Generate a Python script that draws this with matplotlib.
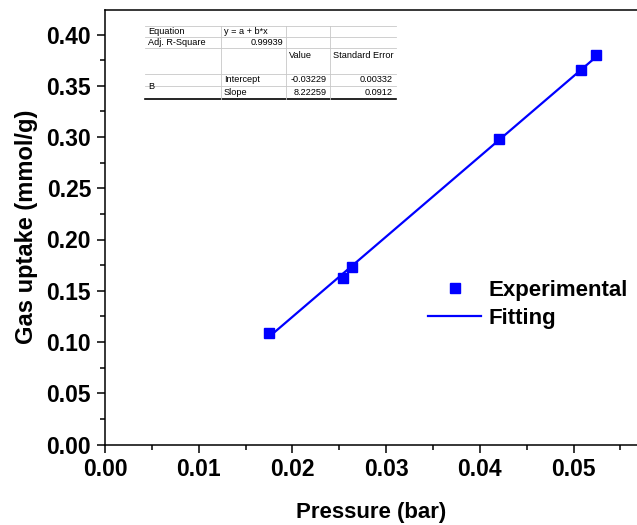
import numpy as np
import matplotlib
matplotlib.use("Agg")
import matplotlib.pyplot as plt
from matplotlib.lines import Line2D

plt.rcParams['font.family'] = ['Liberation Sans', 'DejaVu Sans']

# datos experimentales
pressure = [0.01750, 0.02537, 0.02639, 0.04208, 0.05080, 0.05243]
uptake = [0.1087, 0.1625, 0.1735, 0.2978, 0.3650, 0.3796]

x_ticks = [0.00, 0.01, 0.02, 0.03, 0.04, 0.05]
y_ticks = [0.00, 0.05, 0.10, 0.15, 0.20, 0.25, 0.30, 0.35, 0.40]

# tabla del ajuste (texto)
table_rows = [
    ["Equation", "y = a + b*x", "", ""],
    ["Adj. R-Square", "0.99939", "", ""],
    ["", "", "Value", "Standard Error"],
    ["B", "Intercept", "-0.03229", "0.00332"],
    ["", "Slope", "8.22259", "0.0912"],
]

W, H = 637, 525
fig = plt.figure(figsize=(W/100, H/100), dpi=100)
ax = fig.add_axes([105/W, 80.5/H, 532/W, 434.5/H])

blue = '#0000ff'
# ajuste lineal
b, a = np.polyfit(pressure, uptake, 1)
xf = np.array([pressure[0], pressure[-1]])
ax.plot(xf, a + b*xf, color=blue, lw=1.6, zorder=2)
ax.plot(pressure, uptake, 's', color=blue, ms=7.5, zorder=3)

ax.set_xlim(0, 532/9370)
ax.set_ylim(0, 434.5/1025)
ax.set_xticks(x_ticks)
ax.set_yticks(y_ticks)
ax.set_xticklabels([f"{v:.2f}" for v in x_ticks])
ax.set_yticklabels([f"{v:.2f}" for v in y_ticks])
ax.set_xticks(np.array(x_ticks) + 0.005, minor=True)
ax.set_yticks(np.array(y_ticks[:-1]) + 0.025, minor=True)
ax.tick_params(which='major', direction='out', length=6, width=1.1, pad=4,
               labelsize=16.5)
ax.tick_params(which='minor', direction='out', length=3.5, width=1.1)
for lab in ax.get_xticklabels() + ax.get_yticklabels():
    lab.set_fontweight('bold')
ax.spines['right'].set_visible(False)
for s in ['left', 'bottom', 'top']:
    ax.spines[s].set_linewidth(1.1)

ax.set_xlabel("Pressure (bar)", fontsize=16, fontweight='bold', labelpad=15)
ax.set_ylabel("Gas uptake (mmol/g)", fontsize=17, fontweight='bold', labelpad=6)

handles = [Line2D([], [], ls='none', marker='s', color=blue, ms=7.5),
           Line2D([], [], color=blue, lw=1.6)]
fig.legend(handles, ["Experimental", "Fitting"], loc='upper left',
           bbox_to_anchor=(428/W, 1 - 280/H), frameon=False,
           prop={'weight': 'bold', 'size': 16}, handlelength=2.4,
           handletextpad=0.3, labelspacing=0.32, borderpad=0, borderaxespad=0)

# tabla en coordenadas de pixel
def px(x, y):
    return x/W, 1 - y/H

col_x = [145, 221, 286, 330, 396]
row_y = [26.3, 37.3, 48, 74, 86, 98.5]
grey = '#c8c8c8'
for yy in row_y[:-1]:
    fig.add_artist(Line2D([px(145, 0)[0], px(col_x[-1], 0)[0]], [px(0, yy)[1]]*2,
                          color=grey, lw=0.6))
fig.add_artist(Line2D([px(145, 0)[0], px(col_x[-1], 0)[0]], [px(0, 98.5)[1]]*2,
                      color='black', lw=1.2))
for xx in col_x[1:-1]:
    fig.add_artist(Line2D([px(xx, 0)[0]]*2, [px(0, 26.3)[1], px(0, 98.5)[1]],
                          color=grey, lw=0.6))
fs = 6.6
for r, row in enumerate(table_rows):
    y0, y1 = row_y[r], row_y[r+1]
    yc = (y0 + y1) / 2 if r != 2 else y0 + 7
    for c, txt in enumerate(row):
        if not txt:
            continue
        if r == 3 and c == 0:
            yc_b = (row_y[3] + row_y[5]) / 2
            fig.text(*px(col_x[0] + 3, yc_b), txt, fontsize=fs, va='center')
            continue
        right = (r == 1 and c == 1) or (r in (3, 4) and c >= 2)
        if right:
            fig.text(*px(col_x[c+1] - 3, yc), txt, fontsize=fs, va='center', ha='right')
        else:
            fig.text(*px(col_x[c] + 3, yc), txt, fontsize=fs, va='center')

fig.savefig("out.png", dpi=100)
